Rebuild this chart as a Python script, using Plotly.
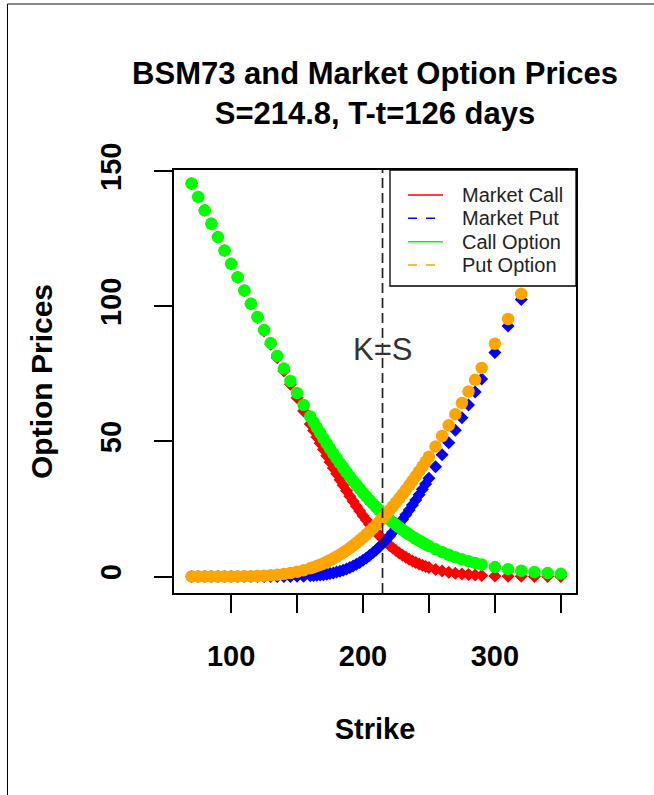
import plotly.graph_objects as go

# ---------------- data ----------------
strikes = [70, 75, 80, 85, 90, 95, 100, 105, 110, 115, 120, 125, 130, 135, 140, 145, 150, 155, 160,
           162.5, 165, 167.5, 170, 172.5, 175, 177.5, 180, 182.5, 185, 187.5, 190, 192.5, 195, 197.5,
           200, 202.5, 205, 207.5, 210, 212.5, 215, 217.5, 220, 222.5, 225, 227.5, 230, 232.5, 235,
           237.5, 240, 242.5, 245, 247.5, 250,
           255, 260, 265, 270, 275, 280, 285, 290,
           300, 310, 320, 330, 340, 350]

market_call = [145.40, 140.44, 135.49, 130.53, 125.57, 120.62, 115.66, 110.70, 105.74, 100.79, 95.83, 90.87,
               85.92, 80.97, 76.02, 71.09, 66.16, 61.26, 56.42,
               54.03, 51.65, 49.29, 46.95, 44.65, 42.38, 40.16, 37.98, 35.84, 33.75, 31.72, 29.74, 27.83,
               25.99, 24.22, 22.51, 20.88, 19.33, 17.84, 16.44, 15.12, 13.86, 12.69, 11.58, 10.55, 9.60,
               8.71, 7.88, 7.12, 6.42, 5.77, 5.18, 4.64, 4.15, 3.70, 3.30,
               2.61, 2.04, 1.59, 1.22, 0.94, 0.71, 0.54, 0.41,
               0.23, 0.13, 0.07, 0.04, 0.02, 0.01]

market_put = [0, 0, 0, 0, 0, 0, 0, 0, 0, 0, 0, 0, 0.00, 0.01, 0.02, 0.04, 0.07, 0.13, 0.25,
              0.33, 0.43, 0.55, 0.69, 0.87, 1.08, 1.34, 1.63, 1.97, 2.36, 2.81, 3.31, 3.88, 4.51, 5.22,
              5.99, 6.84, 7.77, 8.76, 9.84, 10.99, 12.21, 13.52, 14.89, 16.34, 17.87, 19.46, 21.10,
              22.82, 24.60, 26.43, 28.32, 30.26, 32.25, 34.27, 36.35,
              40.62, 45.01, 49.51, 54.10, 58.78, 63.50, 68.29, 73.12,
              82.85, 92.67, 102.52, 112.41, 122.30, 132.20]

bsm_call = [145.40, 140.44, 135.49, 130.53, 125.58, 120.63, 115.68, 110.74, 105.81, 100.90, 96.01, 91.16,
            86.37, 81.61, 76.93, 72.34, 67.85, 63.46, 59.20,
            57.13, 55.09, 53.09, 51.12, 49.20, 47.32, 45.48, 43.69, 41.94, 40.23, 38.57, 36.96, 35.38,
            33.87, 32.40, 30.96, 29.57, 28.23, 26.94, 25.69, 24.50, 23.33, 22.22, 21.14, 20.11, 19.11,
            18.16, 17.25, 16.38, 15.55, 14.74, 13.98, 13.25, 12.55, 11.89, 11.25,
            10.06, 9.00, 8.03, 7.15, 6.36, 5.67, 5.02, 4.46,
            3.50, 2.73, 2.12, 1.65, 1.28, 0.99]

bsm_put = [0.00, 0.00, 0.00, 0.00, 0.01, 0.01, 0.02, 0.04, 0.07, 0.11, 0.18, 0.29, 0.45, 0.65, 0.93,
           1.29, 1.76, 2.33, 3.03,
           3.43, 3.87, 4.35, 4.86, 5.42, 6.02, 6.66, 7.34, 8.07, 8.84, 9.66, 10.53, 11.43, 12.39, 13.40,
           14.44, 15.53, 16.67, 17.86, 19.09, 20.37, 21.68, 23.05, 24.45, 25.90, 27.38, 28.91, 30.47,
           32.08, 33.73, 35.40, 37.12, 38.87, 40.65, 42.46, 44.30,
           48.07, 51.97, 55.95, 60.03, 64.20, 68.46, 72.77, 77.17,
           86.12, 95.27, 104.57, 114.02, 123.56, 133.18]

spot = 214.8
days = 126
kes_label_y = 84

x_tickvals = [100, 150, 200, 250, 300, 350]
x_ticktext = ["100", "", "200", "", "300", ""]
y_tickvals = [0, 50, 100, 150]
y_ticktext = ["0", "50", "100", "150"]

legend_names = ["Market Call", "Market Put", "Call Option", "Put Option"]
legend_colors = ["#FF0000", "#0000FF", "#00FF00", "#FFA500"]
legend_dash = ["solid", "dash", "solid", "dash"]

FONT = "Liberation Sans, Arial, sans-serif"

# ---------------- figure ----------------
fig = go.Figure()

series = [
    (market_call, "Market Call", "#FF0000", "diamond", 10),
    (market_put, "Market Put", "#0000FF", "diamond", 10),
    (bsm_call, "Call Option", "#00FF00", "circle", 12.5),
    (bsm_put, "Put Option", "#FFA500", "circle", 12.5),
]
for vals, name, col, sym, sz in series:
    fig.add_trace(go.Scatter(
        x=strikes, y=vals, mode="markers", name=name, showlegend=False,
        marker=dict(color=col, symbol=sym, size=sz, line=dict(width=0))))

# vertical K=S line
fig.add_shape(type="line", xref="x", yref="paper", x0=spot, x1=spot, y0=0, y1=1,
              line=dict(color="#222222", width=1.7, dash="10px,5px"), layer="above")
fig.add_annotation(x=spot, y=kes_label_y, xref="x", yref="y", text="K=S", showarrow=False,
                   font=dict(family=FONT, size=31, color="#333333"))

# legend box (drawn like R's legend(): opaque box over the points)
fig.add_shape(type="rect", xref="paper", yref="paper", x0=0.5373, x1=1.0, y0=0.7258, y1=1.0,
              fillcolor="white", line=dict(color="black", width=1.3), layer="above")
leg_rows = [0.9409, 0.8858, 0.8305, 0.7754]
for name, col, dash, yy in zip(legend_names, legend_colors, legend_dash, leg_rows):
    fig.add_shape(type="line", xref="paper", yref="paper", x0=0.5821, x1=0.6692, y0=yy, y1=yy,
                  line=dict(color=col, width=1.5, dash=dash), layer="above")
    fig.add_annotation(x=0.7114, y=yy, xref="paper", yref="paper", text=name, showarrow=False,
                       xanchor="left", yanchor="middle",
                       font=dict(family=FONT, size=20, color="#222222"))

# outer frame lines of the picture
fig.add_shape(type="line", xref="paper", yref="paper", x0=-0.4142, x1=1.2, y0=1.3924, y1=1.3924,
              line=dict(color="#888888", width=2))
fig.add_shape(type="line", xref="paper", yref="paper", x0=-0.4142, x1=-0.4142, y0=1.3924, y1=-0.5,
              line=dict(color="#000000", width=1))

fig.update_layout(
    width=654, height=795,
    margin=dict(l=174, r=78, t=170, b=202),
    paper_bgcolor="white", plot_bgcolor="white",
    showlegend=False,
    title=dict(text=f"BSM73 and Market Option Prices<br>S={spot}, T-t={days} days",
               x=375 / 654, xanchor="center", xref="container",
               y=1 - 84 / 795, yanchor="top", yref="container",
               font=dict(family=FONT, size=31, color="black", weight="bold")),
    xaxis=dict(range=[56.7, 361.5], tickvals=x_tickvals, ticktext=x_ticktext,
               ticks="outside", ticklen=18, tickwidth=1.5, tickcolor="black",
               showline=True, mirror=True, linecolor="black", linewidth=1.5,
               showgrid=False, zeroline=False, ticklabelstandoff=18,
               tickfont=dict(family=FONT, size=29, color="black", weight="bold"),
               title=dict(text="Strike", standoff=48,
                          font=dict(family=FONT, size=29, color="black", weight="bold"))),
    yaxis=dict(range=[-6.1, 150.4], tickvals=y_tickvals, ticktext=y_ticktext,
               ticks="outside", ticklen=18, tickwidth=1.5, tickcolor="black",
               showline=True, mirror=True, linecolor="black", linewidth=1.5,
               showgrid=False, zeroline=False, tickangle=-90, ticklabelstandoff=22,
               tickfont=dict(family=FONT, size=29, color="black", weight="bold"),
               title=dict(text="Option Prices", standoff=33,
                          font=dict(family=FONT, size=30, color="black", weight="bold"))),
)

fig.write_html("out.html")
